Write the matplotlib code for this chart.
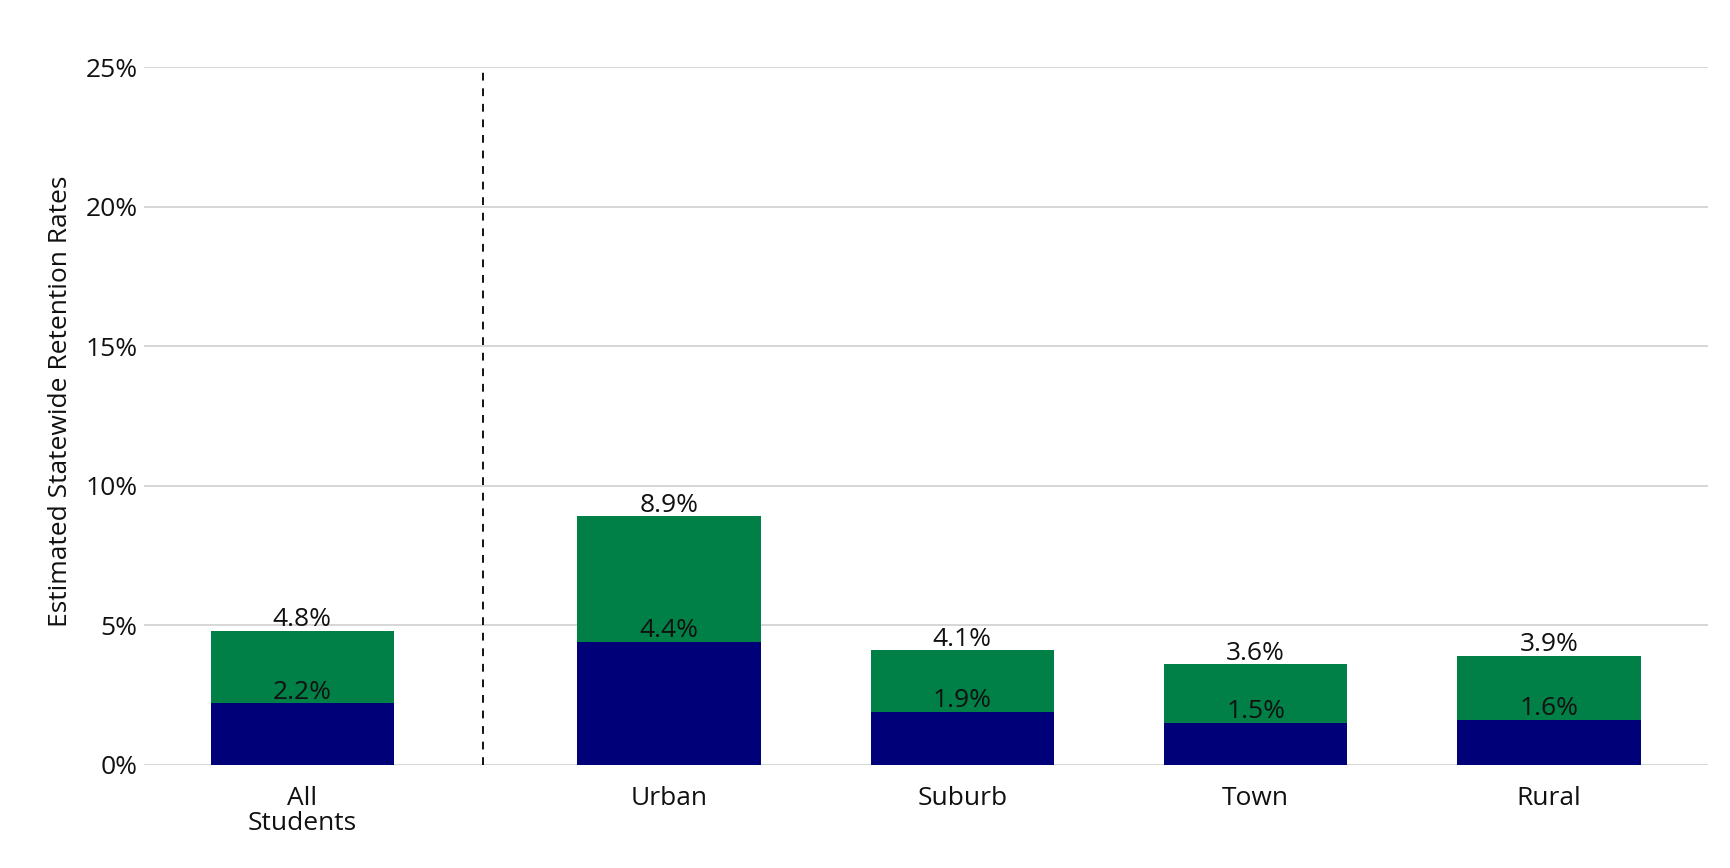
import matplotlib
matplotlib.use("Agg")
import matplotlib.pyplot as plt

categories = ["All\nStudents", "Urban", "Suburb", "Town", "Rural"]
bottom_vals = [2.2, 4.4, 1.9, 1.5, 1.6]
total_vals = [4.8, 8.9, 4.1, 3.6, 3.9]
positions = [0, 1.25, 2.25, 3.25, 4.25]

navy = "#000078"
green = "#007F46"
txt = "#111111"

plt.rcParams['font.family'] = ['Open Sans', 'DejaVu Sans']
fs = 19

fig = plt.figure(figsize=(17.30, 8.68), dpi=100)
ax = fig.add_axes([0.0835, 0.119, 0.9035, 0.8035])

top_seg = [t - b for t, b in zip(total_vals, bottom_vals)]
w = 0.625
ax.bar(positions, bottom_vals, width=w, color=navy, zorder=3)
ax.bar(positions, top_seg, bottom=bottom_vals, width=w, color=green, zorder=3)

for x, b, t in zip(positions, bottom_vals, total_vals):
    ax.annotate(f"{b:.1f}%", (x, b), xytext=(0, 8), textcoords="offset points",
                ha="center", va="center", fontsize=fs, color=txt, zorder=5)
    ax.annotate(f"{t:.1f}%", (x, t), xytext=(0, 8), textcoords="offset points",
                ha="center", va="center", fontsize=fs, color=txt, zorder=5)

ax.axvline(0.615, ymin=0, ymax=0.995, color="#111111", linestyle=(0, (4, 4)), linewidth=1.4, zorder=4)

ax.set_ylim(0, 25)
ax.set_xlim(-0.538, 4.79)
ax.set_yticks([0, 5, 10, 15, 20, 25])
ax.set_yticklabels([f"{v}%" for v in [0, 5, 10, 15, 20, 25]], fontsize=fs, color=txt)
ax.set_xticks(positions)
ax.set_xticklabels(categories, fontsize=fs, color=txt, linespacing=1.05)
ax.tick_params(axis="both", length=0)
ax.tick_params(axis="y", pad=5)
ax.tick_params(axis="x", pad=15)
ax.grid(axis="y", color="#d3d3d3", linewidth=1.3, zorder=0)
for s in ax.spines.values():
    s.set_visible(False)

ax.set_ylabel("Estimated Statewide Retention Rates", fontsize=fs, color=txt)
ax.yaxis.set_label_coords(-0.046, 0.521)

fig.savefig("out.png", dpi=100, facecolor="white")
